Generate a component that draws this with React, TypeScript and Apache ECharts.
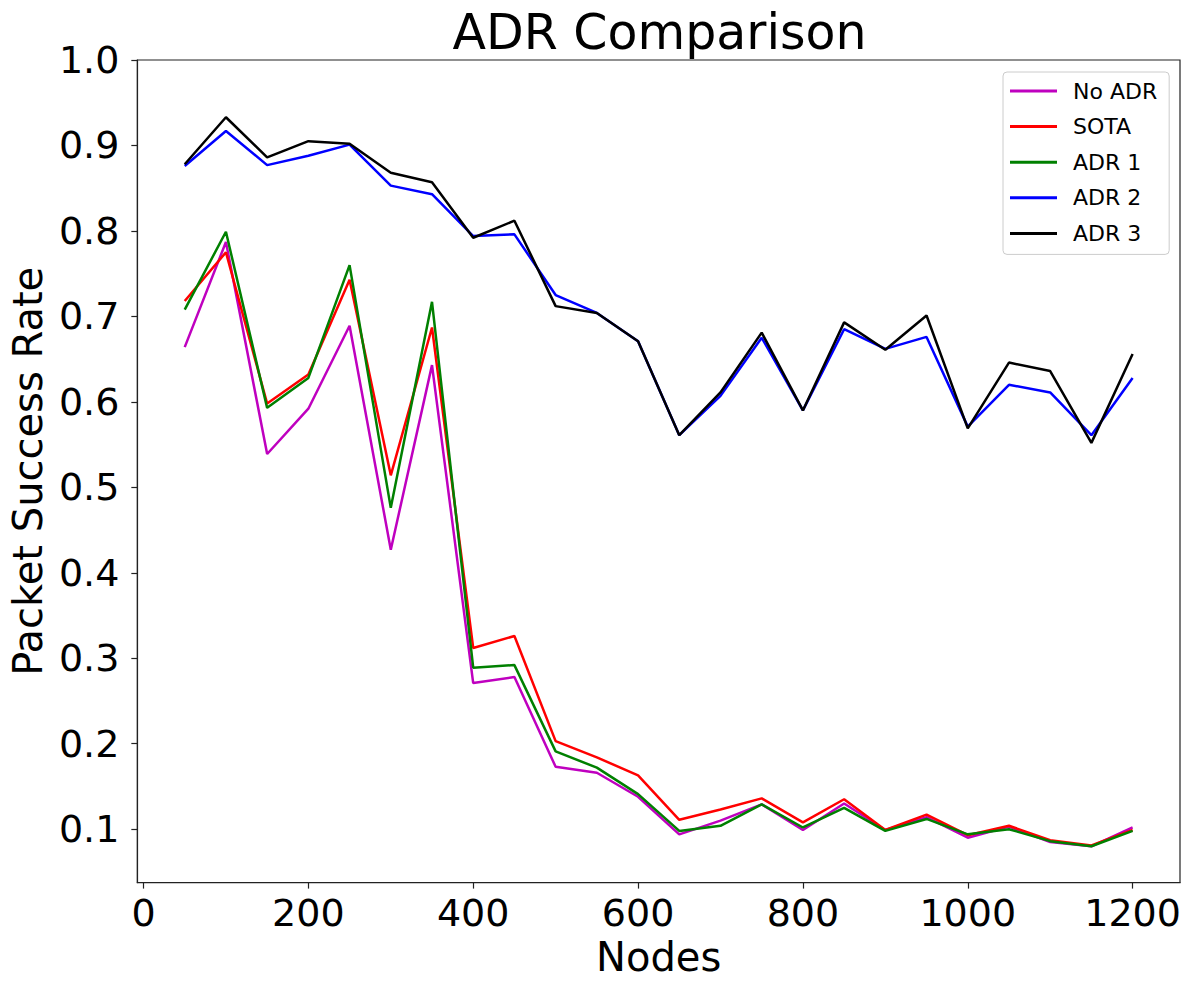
import React, { useEffect, useRef } from "react";
import * as echarts from "echarts";

const nodes = [50, 100, 150, 200, 250, 300, 350, 400, 450, 500, 550, 600, 650, 700, 750, 800, 850, 900, 950, 1000, 1050, 1100, 1150, 1200];
const noAdr = [0.664, 0.787, 0.539, 0.592, 0.689, 0.427, 0.643, 0.271, 0.278, 0.173, 0.166, 0.138, 0.094, 0.110, 0.129, 0.099, 0.130, 0.099, 0.114, 0.090, 0.103, 0.085, 0.080, 0.102];
const sota = [0.718, 0.775, 0.598, 0.632, 0.743, 0.514, 0.687, 0.312, 0.326, 0.203, 0.184, 0.163, 0.111, 0.123, 0.136, 0.108, 0.135, 0.099, 0.117, 0.093, 0.104, 0.087, 0.081, 0.099];
const adr1 = [0.708, 0.799, 0.593, 0.628, 0.760, 0.476, 0.717, 0.289, 0.292, 0.191, 0.172, 0.141, 0.098, 0.104, 0.129, 0.102, 0.125, 0.098, 0.112, 0.094, 0.100, 0.086, 0.080, 0.098];
const adr2 = [0.876, 0.917, 0.877, 0.888, 0.901, 0.853, 0.843, 0.794, 0.796, 0.725, 0.704, 0.671, 0.561, 0.607, 0.675, 0.590, 0.685, 0.662, 0.676, 0.571, 0.620, 0.611, 0.561, 0.628];
const adr3 = [0.878, 0.933, 0.886, 0.905, 0.902, 0.868, 0.857, 0.792, 0.812, 0.712, 0.704, 0.671, 0.561, 0.611, 0.681, 0.590, 0.693, 0.661, 0.701, 0.569, 0.646, 0.636, 0.552, 0.656];

const seriesNames = ["No ADR", "SOTA", "ADR 1", "ADR 2", "ADR 3"];
const seriesColors = ["#bf00bf", "#ff0000", "#008000", "#0000ff", "#000000"];
const seriesValues = [noAdr, sota, adr1, adr2, adr3];

const xTicks = [0, 200, 400, 600, 800, 1000, 1200];
const yTicks = [0.1, 0.2, 0.3, 0.4, 0.5, 0.6, 0.7, 0.8, 0.9, 1.0];

const FONT = "DejaVu Sans";

export default function App() {
  const ref = useRef<HTMLDivElement>(null);
  useEffect(() => {
    if (!ref.current) return;
    const chart = echarts.init(ref.current, null, { renderer: "svg" });
    chart.setOption({
      animation: false,
      backgroundColor: "#ffffff",
      title: {
        text: "ADR Comparison",
        left: 659.5,
        top: 7.5,
        padding: 0,
        textAlign: "center",
        textStyle: { fontFamily: FONT, fontSize: 49, fontWeight: "normal", color: "#000" },
      },
      grid: {
        left: 136.7,
        right: 5,
        top: 60,
        bottom: 92.7,
        show: true,
        borderColor: "#222",
        borderWidth: 1.2,
        backgroundColor: "transparent",
      },
      legend: {
        orient: "vertical",
        left: 1003,
        top: 72,
        padding: [8, 12, 10, 7],
        itemGap: 13.6,
        itemWidth: 47,
        itemHeight: 3,
        icon: "rect",
        backgroundColor: "rgba(255,255,255,0.8)",
        borderColor: "#cccccc",
        borderWidth: 1,
        borderRadius: 4,
        data: seriesNames,
        textStyle: {
          fontFamily: FONT,
          fontSize: 22,
          lineHeight: 22,
          color: "#000",
          padding: [0, 0, 0, 11],
        },
      },
      xAxis: {
        type: "value",
        min: -7.5,
        max: 1257.5,
        name: "Nodes",
        nameLocation: "middle",
        nameGap: 54.4,
        nameTextStyle: { fontFamily: FONT, fontSize: 40, color: "#000" },
        axisLine: { show: true, onZero: false, lineStyle: { color: "#222", width: 1.2 } },
        axisTick: { show: true, length: 6, lineStyle: { color: "#222", width: 1.2 }, customValues: xTicks },
        axisLabel: {
          fontFamily: FONT,
          fontSize: 38,
          color: "#000",
          margin: 11,
          customValues: xTicks,
          formatter: (v: number) => String(v),
        },
        splitLine: { show: false },
      },
      yAxis: {
        type: "value",
        min: 0.0375,
        max: 1.0,
        name: "Packet Success Rate",
        nameLocation: "middle",
        nameRotate: 90,
        nameGap: 89,
        nameTextStyle: { fontFamily: FONT, fontSize: 40, color: "#000" },
        axisLine: { show: true, onZero: false, lineStyle: { color: "#222", width: 1.2 } },
        axisTick: { show: true, length: 6, lineStyle: { color: "#222", width: 1.2 }, customValues: yTicks },
        axisLabel: {
          fontFamily: FONT,
          fontSize: 38,
          color: "#000",
          margin: 18,
          customValues: yTicks,
          formatter: (v: number) => v.toFixed(1),
        },
        splitLine: { show: false },
      },
      series: seriesNames.map((name, i) => ({
        type: "line",
        name,
        data: nodes.map((x, j) => [x, seriesValues[i][j]]),
        showSymbol: false,
        symbol: "none",
        lineStyle: { width: 2.5, color: seriesColors[i] },
        itemStyle: { color: seriesColors[i] },
        z: 2 + i,
      })),
    });
    return () => chart.dispose();
  }, []);
  return (
    <div
      ref={ref}
      style={{ position: "fixed", left: 0, top: 0, width: 1185, height: 982, background: "#fff" }}
    />
  );
}
